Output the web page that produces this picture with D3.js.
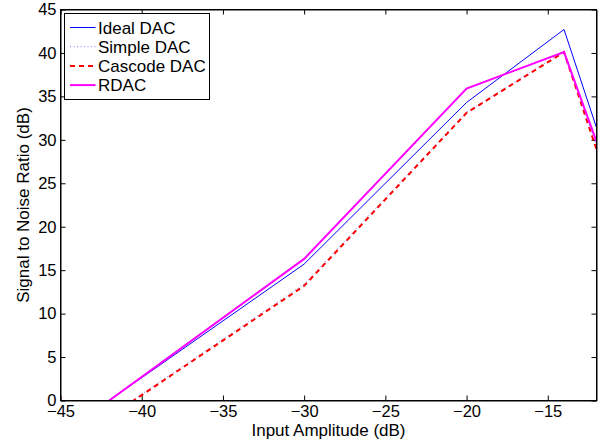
<!DOCTYPE html>
<html>
<head>
<meta charset="utf-8"/>
<title>SNR vs input amplitude</title>
<script src="https://d3js.org/d3.v7.min.js"></script>
<style>
    body { margin: 0; background: white; }
    svg { font-family: "Liberation Sans", Arial, Helvetica, sans-serif; }
    .tick text { font-size: 16.5px; fill: #000; }
    .tick line { stroke: #000; }
</style>
</head>
<body>
<svg id="chart" width="607" height="442"></svg>
<script>
// values
var inputAmp = [-42, -30, -20, -14, -12];
var idealDac = [0, 15.7, 34.3, 42.7, 31.4];
var simpleDac = [-1.8, 13.4, 33.2, 40.2, 29.3];
var cascodeDac = [-1.9, 13.2, 33.1, 40.1, 28.9];
var rdac = [0, 16.3, 35.9, 40.1, 29.8];

var xTicks = [-45, -40, -35, -30, -25, -20, -15];
var yTicks = [0, 5, 10, 15, 20, 25, 30, 35, 40, 45];

var series = [
    {name: "Ideal DAC", values: idealDac, color: "#0000ff", width: 1, dash: null},
    {name: "Simple DAC", values: simpleDac, color: "#7f7fff", width: 1, dash: "1,2.5"},
    {name: "Cascode DAC", values: cascodeDac, color: "#ff0000", width: 2, dash: "5,4"},
    {name: "RDAC", values: rdac, color: "#ff00ff", width: 2, dash: null}
];

var svg = d3.select("#chart");
var mLeft = 60.5, mTop = 9.5, w = 536, h = 391;

var x = d3.scaleLinear([-45, -12], [0, w]);
var y = d3.scaleLinear([0, 45], [h, 0]);

var g = svg.append("g").attr("transform", "translate(" + mLeft + "," + mTop + ")");

g.append("clipPath").attr("id", "clip")
    .append("rect").attr("width", w).attr("height", h);

var fmt = d => d < 0 ? "\u2212" + Math.abs(d) : String(d);

// axes, ticks pointing inward like matlab
g.append("g").attr("transform", "translate(0," + h + ")")
    .call(d3.axisBottom(x).tickValues(xTicks).tickSizeInner(-5).tickSizeOuter(0).tickPadding(5).tickFormat(fmt));
g.append("g")
    .call(d3.axisLeft(y).tickValues(yTicks).tickSizeInner(-5).tickSizeOuter(0).tickPadding(4).tickFormat(fmt));
g.append("g")
    .call(d3.axisTop(x).tickValues(xTicks).tickSizeInner(-5).tickSizeOuter(0).tickFormat(""));
g.append("g").attr("transform", "translate(" + w + ",0)")
    .call(d3.axisRight(y).tickValues(yTicks).tickSizeInner(-5).tickSizeOuter(0).tickFormat(""));

g.selectAll(".domain").attr("stroke", "#000");
g.selectAll(".tick text").attr("font-family", "Liberation Sans, Arial, sans-serif");

var line = d3.line()
    .x((d, i) => x(inputAmp[i]))
    .y(d => y(d));

g.append("g").attr("clip-path", "url(#clip)")
    .selectAll("path")
    .data(series)
    .enter()
    .append("path")
    .attr("d", s => line(s.values))
    .attr("fill", "none")
    .attr("stroke", s => s.color)
    .attr("stroke-width", s => s.width)
    .attr("stroke-dasharray", s => s.dash);

g.append("rect").attr("width", w).attr("height", h)
    .attr("fill", "none").attr("stroke", "#000");

// legend
var lg = svg.append("g").attr("transform", "translate(64.5,13.5)");
lg.append("rect").attr("width", 145).attr("height", 86)
    .attr("fill", "white").attr("stroke", "#000");
var row = lg.selectAll("g.item").data(series).enter()
    .append("g").attr("class", "item")
    .attr("transform", (d, i) => "translate(0," + (14 + i * 19.2) + ")");
row.append("line").attr("x1", 5.5).attr("x2", 31)
    .attr("stroke", s => s.color)
    .attr("stroke-width", s => s.width)
    .attr("stroke-dasharray", s => s.dash);
row.append("text").attr("x", 33.5).attr("dy", "0.36em")
    .attr("font-size", 17).text(s => s.name);

// axis labels
svg.append("text").attr("x", mLeft + w / 2).attr("y", 436)
    .attr("text-anchor", "middle").attr("font-size", 17)
    .text("Input Amplitude (dB)");
svg.append("text")
    .attr("transform", "translate(29," + (mTop + h / 2) + ") rotate(-90)")
    .attr("text-anchor", "middle").attr("font-size", 17)
    .text("Signal to Noise Ratio (dB)");
</script>
</body>
</html>
